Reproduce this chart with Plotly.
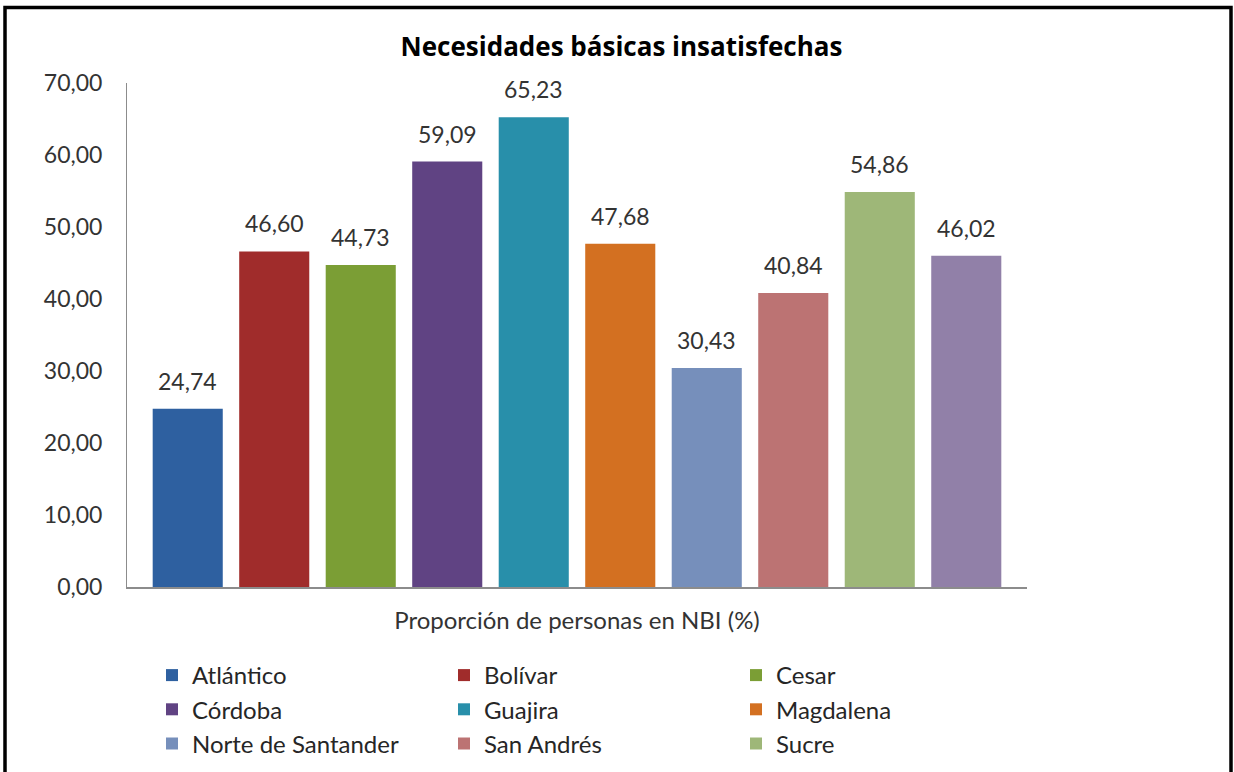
import plotly.graph_objects as go

# Departamentos y proporción de personas en NBI (%)
departamentos = ["Atlántico", "Bolívar", "Cesar", "Córdoba", "Guajira",
                 "Magdalena", "Norte de Santander", "San Andrés", "Sucre", "Región Caribe"]
nbi = [24.74, 46.60, 44.73, 59.09, 65.23, 47.68, 30.43, 40.84, 54.86, 46.02]
colores = ["#2E60A0", "#A02C2B", "#7B9E35", "#604383", "#288FAA",
           "#D37021", "#768FBB", "#BC7373", "#9EB778", "#9180A8"]
en_leyenda = [True] * 9 + [False]   # the 10th entry is cut off below the frame

eje_y = [0, 10, 20, 30, 40, 50, 60, 70]

fig = go.Figure()
for dep, val, col, ley in zip(departamentos, nbi, colores, en_leyenda):
    fig.add_trace(go.Bar(
        x=[dep], y=[val], name=dep,
        marker=dict(color=col, line=dict(width=0)),
        showlegend=ley,
    ))
    fig.add_annotation(
        x=dep, y=val, text=f"{val:.2f}".replace(".", ","),
        showarrow=False, yanchor="bottom", yshift=12,
        font=dict(family="Lato", size=23, color="#333333"),
    )

W, H = 1234, 772
L, R, T, B = 127, 207, 83, 185
pw, ph = W - L - R, H - T - B

# black frame around the whole chart (bottom edge falls outside the picture)
fig.add_shape(
    type="rect", xref="paper", yref="paper",
    x0=(5 - L) / pw, x1=(1231 - L) / pw,
    y0=(H - B - 800) / ph, y1=(H - B - 7.5) / ph,
    line=dict(color="black", width=3.5), layer="above",
)

fig.update_layout(
    width=W, height=H,
    margin=dict(l=L, r=R, t=T, b=B, autoexpand=False),
    paper_bgcolor="white", plot_bgcolor="white",
    separators=",.",
    barmode="overlay", bargap=0.19,
    font=dict(family="Lato", size=23, color="#333333"),
    title=dict(
        text="<b>Necesidades básicas insatisfechas</b>",
        x=621.5 / W, xref="container", xanchor="center",
        y=1 - 47 / H, yanchor="middle",
        font=dict(family="Open Sans", size=26, color="black"),
    ),
    xaxis=dict(
        showticklabels=False, ticks="", showgrid=False,
        showline=True, linecolor="#8C8C8C", linewidth=2,
        range=[-0.702, 9.702],
        title=dict(text="Proporción de personas en NBI (%)", standoff=24,
                   font=dict(size=24, color="#333333")),
    ),
    yaxis=dict(
        range=[0, 70], tickvals=eje_y, tickformat=".2f",
        showgrid=False, zeroline=False, ticks="",
        showline=True, linecolor="#8C8C8C", linewidth=1,
        ticklabelstandoff=19,
        tickfont=dict(size=23, color="#333333"),
    ),
    legend=dict(
        orientation="h", x=(152 - L) / pw, xanchor="left",
        y=(H - B - 653) / ph, yanchor="top",
        entrywidth=247, entrywidthmode="pixels", itemwidth=30,
        font=dict(size=24, color="#262626"),
        traceorder="normal",
    ),
)

fig.write_html("out.html", config={"displayModeBar": False},
               post_script="document.body.style.margin='0';")
